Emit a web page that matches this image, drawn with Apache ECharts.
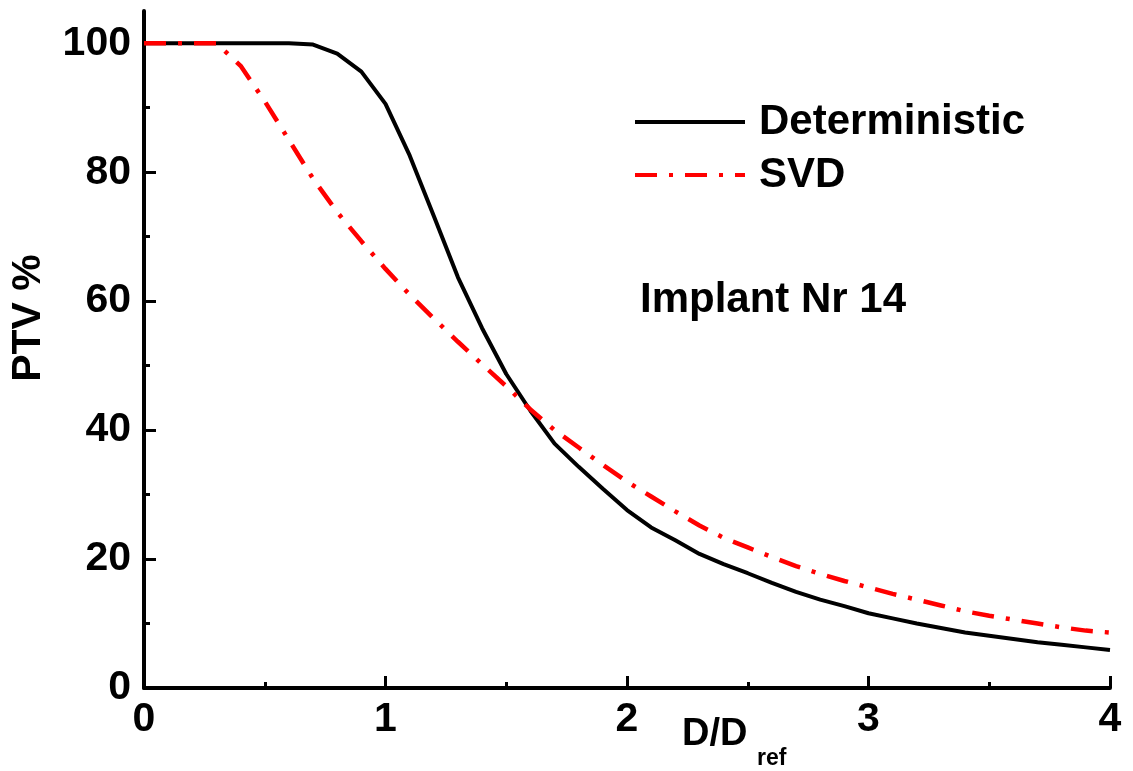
<!DOCTYPE html>
<html>
<head>
<meta charset="utf-8">
<script src="https://cdn.jsdelivr.net/npm/echarts@6/dist/echarts.min.js"></script>
<style>html,body{margin:0;padding:0;background:#fff}#c{width:1133px;height:771px}</style>
</head>
<body>
<div id="c"></div>
<script>
// D/D_ref values
const doseRatio = [0,0.1,0.2,0.3,0.4,0.5,0.6,0.7,0.8,0.9,1.0,1.1,1.2,1.3,1.4,1.5,1.6,1.7,1.8,1.9,2.0,2.1,2.2,2.3,2.4,2.5,2.6,2.7,2.8,2.9,3.0,3.1,3.2,3.3,3.4,3.5,3.6,3.7,3.8,3.9,4.0];
const deterministic = [100,100,100,100,100,100,100,99.8,98.4,95.6,90.6,82.6,73.2,63.7,55.8,48.7,43.0,37.9,34.3,30.9,27.6,24.9,22.9,20.8,19.2,17.8,16.3,14.9,13.7,12.7,11.6,10.8,10.0,9.3,8.6,8.1,7.6,7.1,6.7,6.3,5.9];
const svd = [100,100,100,100,96.5,91.0,85.0,79.0,73.8,69.3,65.0,61.0,57.3,53.7,50.2,46.8,43.2,40.0,37.3,34.6,32.0,29.7,27.4,25.2,23.3,21.8,20.3,18.9,17.7,16.6,15.6,14.6,13.7,12.8,11.9,11.2,10.6,10.0,9.4,8.9,8.6];
const seriesNames = ['Deterministic', 'SVD'];
const yMajorTicks = [0,20,40,60,80,100];
const yMinorTicks = [10,30,50,70,90];
const xTitle = 'D/D';
const xTitleSub = 'ref';
const yTitle = 'PTV %';
const annotation = 'Implant Nr 14';

const FONT = 'Liberation Sans, Arial, sans-serif';
const chart = echarts.init(document.getElementById('c'), null, {renderer: 'canvas'});
const pair = (xs, ys) => xs.map((x, i) => [x, ys[i]]);

chart.setOption({
  animation: false,
  backgroundColor: '#fff',
  grid: {left: 144, right: 23, top: 11, bottom: 83, containLabel: false},
  xAxis: {
    type: 'value', min: 0, max: 4, interval: 1,
    axisLine: {show: true, onZero: false, lineStyle: {color: '#000', width: 4}},
    axisTick: {show: true, inside: true, length: 12, lineStyle: {color: '#000', width: 3}},
    minorTick: {show: true, splitNumber: 2, length: 6, lineStyle: {color: '#000', width: 3}},
    axisLabel: {show: true, margin: 11, color: '#000', fontSize: 41, fontWeight: 'bold', fontFamily: FONT},
    splitLine: {show: false}
  },
  yAxis: [{
    type: 'value', min: 0, max: 105,
    axisLine: {show: true, onZero: false, lineStyle: {color: '#000', width: 4}},
    axisTick: {show: true, inside: true, length: 12, customValues: yMajorTicks, lineStyle: {color: '#000', width: 3}},
    axisLabel: {show: true, margin: 13, customValues: yMajorTicks, color: '#000', fontSize: 41, fontWeight: 'bold', fontFamily: FONT},
    splitLine: {show: false}
  }, {
    type: 'value', min: 0, max: 105, position: 'left',
    axisLine: {show: false},
    axisTick: {show: true, inside: true, length: 6, customValues: yMinorTicks, lineStyle: {color: '#000', width: 3}},
    axisLabel: {show: false},
    splitLine: {show: false}
  }],
  legend: {
    show: true, orient: 'vertical', left: 628, top: 95,
    itemWidth: 110, itemHeight: 16, itemGap: 9,
    itemStyle: {opacity: 0, borderWidth: 0},
    lineStyle: {width: 4},
    textStyle: {color: '#000', fontSize: 42, fontWeight: 'bold', fontFamily: FONT, padding: [0, 0, 0, 9], lineHeight: 44},
    data: seriesNames.map(n => ({name: n}))
  },
  series: [{
    name: seriesNames[0], type: 'line', yAxisIndex: 0,
    data: pair(doseRatio, deterministic),
    showSymbol: false, symbol: 'none',
    lineStyle: {color: '#000', width: 4},
    itemStyle: {color: '#000'},
    z: 2
  }, {
    name: seriesNames[1], type: 'line', yAxisIndex: 0,
    data: pair(doseRatio, svd),
    showSymbol: false, symbol: 'none',
    lineStyle: {color: '#ff0000', width: 4.5, type: [22, 12, 4, 12], cap: 'butt'},
    itemStyle: {color: '#ff0000'},
    z: 3
  }],
  graphic: [
    {type: 'text', x: 640, y: 300, style: {text: annotation, font: 'bold 42px ' + FONT, fill: '#000', textAlign: 'left', textVerticalAlign: 'middle'}},
    {type: 'text', x: 682, y: 735, style: {text: xTitle, font: 'bold 38px ' + FONT, fill: '#000', textAlign: 'left', textVerticalAlign: 'middle'}},
    {type: 'text', x: 757, y: 759, style: {text: xTitleSub, font: 'bold 23px ' + FONT, fill: '#000', textAlign: 'left', textVerticalAlign: 'middle'}},
    {type: 'text', x: 29, y: 318, rotation: Math.PI / 2, style: {text: yTitle, font: 'bold 41px ' + FONT, fill: '#000', textAlign: 'center', textVerticalAlign: 'middle'}}
  ]
});
</script>
</body>
</html>
